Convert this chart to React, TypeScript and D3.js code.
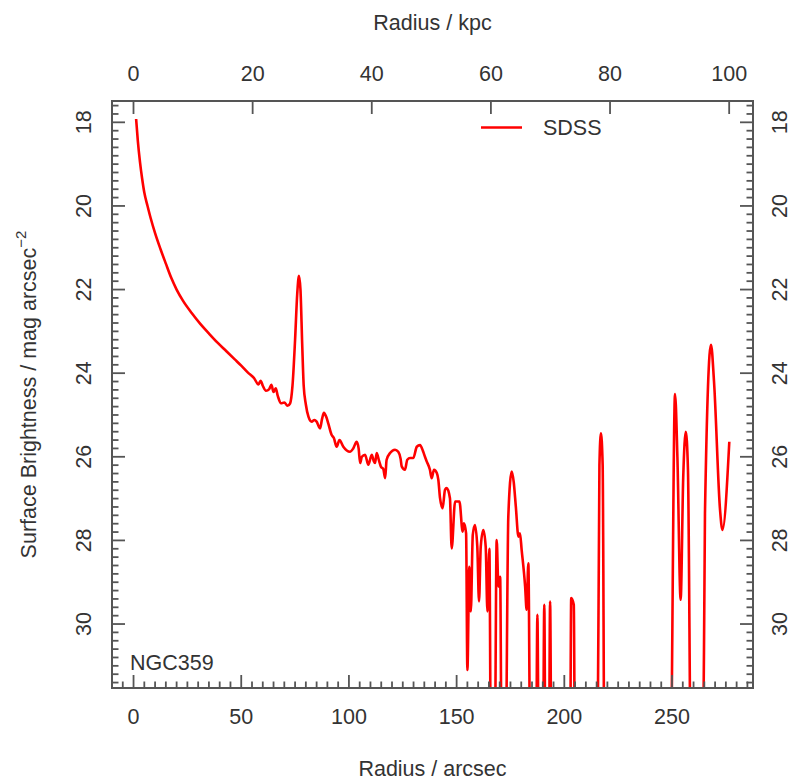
import React from "react";
import * as d3 from "d3";

// Surface brightness profile of NGC359 (SDSS)
const radiusArcsec: number[] = [
  1.2, 2.0, 3.0, 4.0, 5.0, 6.5, 8.0, 10.0, 12.5, 15.0, 17.5, 20.0, 23.0, 27.0, 31.0, 35.0, 39.0, 43.0, 47.0, 50.0,
  53.0, 56.0, 58.0, 59.0, 60.0, 61.5, 63.0, 64.0, 65.0, 66.0, 67.0, 68.5, 70.0, 71.5, 72.7, 73.8, 75.0, 76.0, 76.8, 77.5,
  78.3, 79.0, 80.0, 81.2, 82.7, 84.0, 85.0, 86.6, 87.5, 88.4, 89.5, 90.4, 92.0, 93.0, 94.3, 95.6, 97.4, 99.0, 100.5, 102.0,
  103.6, 104.5, 105.2, 106.0, 107.5, 109.0, 110.6, 111.5, 112.1, 112.9, 114.0, 114.8, 116.0, 116.8, 117.5, 119.1, 121.4, 122.9, 124.0, 124.5,
  126.0, 127.1, 128.4, 129.9, 131.5, 133.0, 134.5, 135.3, 136.1, 137.6, 138.4, 139.5, 140.8, 141.5, 142.3, 143.5, 144.6, 145.4, 146.9, 147.7,
  149.3, 151.3, 152.8, 153.4, 154.4, 155.0, 155.9, 156.6, 157.5, 158.5, 159.6, 160.4, 161.2, 162.4, 163.5, 164.3, 165.2, 166.0, 167.6, 168.6,
  169.4, 170.2, 171.0, 172.6, 174.0, 175.6, 176.5, 177.5, 178.7, 179.4, 180.2, 181.8, 182.5, 183.3, 184.3, 186.8, 187.5, 188.2, 190.0, 190.7,
  191.3, 192.8, 193.4, 194.1, 202.6, 203.2, 204.4, 205.0, 215.3, 216.3, 217.0, 217.8, 218.7, 249.2, 251.4, 252.5, 254.0, 255.2, 256.4, 257.4,
  258.9, 264.3, 265.3, 268.1, 269.5, 272.3, 273.4, 276.6,
];
const sdssMag: number[] = [
  17.92, 18.45, 18.95, 19.35, 19.68, 20.0, 20.3, 20.65, 21.03, 21.38, 21.72, 22.0, 22.27, 22.56, 22.82, 23.05, 23.27, 23.47, 23.67, 23.82,
  23.98, 24.12, 24.27, 24.18, 24.3, 24.42, 24.38, 24.28, 24.45, 24.36, 24.55, 24.72, 24.7, 24.78, 24.72, 24.3, 23.2, 22.1, 21.67, 22.0,
  23.3, 24.3, 24.75, 25.04, 25.16, 25.12, 25.16, 25.32, 25.1, 24.95, 25.05, 25.2, 25.48, 25.55, 25.76, 25.6, 25.76, 25.85, 25.88, 25.8,
  25.64, 25.8, 26.15, 26.0, 25.95, 26.19, 25.95, 26.1, 26.15, 25.91, 26.1, 26.23, 26.3, 26.51, 26.07, 25.91, 25.83, 25.88, 26.05, 26.23,
  26.31, 26.07, 26.03, 26.03, 25.76, 25.72, 25.88, 26.0, 26.11, 26.31, 26.51, 26.31, 26.39, 26.55, 26.99, 27.23, 26.79, 26.75, 26.99, 28.19,
  27.07, 27.07, 27.79, 27.59, 27.83, 31.1, 28.63, 29.7, 27.87, 27.63, 28.15, 29.46, 28.15, 27.75, 28.15, 29.7, 28.2, 34, 34, 27.99,
  29.1, 28.87, 34, 34, 27.43, 26.35, 26.6, 27.2, 27.91, 27.83, 28.23, 29.1, 29.66, 28.55, 34, 34, 29.78, 34, 34, 29.54,
  34, 34, 29.46, 34, 34, 29.38, 29.54, 34, 34, 26.2, 25.44, 26.2, 34, 34, 24.5, 26.0, 29.42, 26.5, 25.4, 26.3,
  34, 34, 27.35, 23.32, 24.2, 27.27, 27.75, 25.64,
];

const arcsecTicks: number[] = [0, 50, 100, 150, 200, 250];
const kpcTicks: number[] = [0, 20, 40, 60, 80, 100];
const magTicks: number[] = [18, 20, 22, 24, 26, 28, 30];

const seriesName = "SDSS";
const galaxyName = "NGC359";
const xTitle = "Radius / arcsec";
const topTitle = "Radius / kpc";
const yTitle = "Surface Brightness / mag arcsec";

const W = 792;
const H = 781;
const L = 112, R = 753, T = 101, B = 688;
const FONT = "'Liberation Sans', Arial, Helvetica, sans-serif";
const TXT = "#333";
const AX = "#555";
const FS = 21.5;

export default function App() {
  const x = d3.scaleLinear().domain([-10, 287.6]).range([L, R]);
  const xk = d3.scaleLinear().domain([-3.61, 104.0]).range([L, R]);
  const y = d3.scaleLinear().domain([17.49, 31.53]).range([T, B]);

  const pts: [number, number][] = radiusArcsec.map((r, i) => [r, sdssMag[i]]);
  const line = d3
    .line<[number, number]>()
    .x((d) => x(d[0]))
    .y((d) => y(d[1]))
    .curve(d3.curveMonotoneX);

  const minorX = d3.range(-10, 288, 5).filter((v) => v % 50 !== 0);
  const minorY = d3.range(17.6, 31.5, 0.2).map((v) => Math.round(v * 10) / 10).filter((v) => Math.abs(v / 2 - Math.round(v / 2)) > 1e-6);

  const majLen = 13;
  const minLen = 6.5;

  return (
    <svg width={W} height={H} style={{ display: "block", position: "absolute", left: 0, top: 0 }} fontFamily={FONT}>
      <rect x={0} y={0} width={W} height={H} fill="#fff" />
      <defs>
        <clipPath id="plotclip">
          <rect x={L} y={T} width={R - L} height={B - T} />
        </clipPath>
      </defs>

      {/* data line */}
      <path
        d={line(pts) || ""}
        fill="none"
        stroke="#ff0000"
        strokeWidth={2.6}
        strokeLinejoin="round"
        clipPath="url(#plotclip)"
      />

      {/* ticks */}
      <g stroke={AX} strokeWidth={1.8}>
        {arcsecTicks.map((v) => (
          <line key={"bx" + v} x1={x(v)} x2={x(v)} y1={B} y2={B - majLen} />
        ))}
        {minorX.map((v) => (
          <line key={"bmx" + v} x1={x(v)} x2={x(v)} y1={B} y2={B - minLen} />
        ))}
        {kpcTicks.map((v) => (
          <line key={"tx" + v} x1={xk(v)} x2={xk(v)} y1={T} y2={T + majLen} />
        ))}
        {magTicks.map((v) => (
          <g key={"y" + v}>
            <line x1={L} x2={L + majLen} y1={y(v)} y2={y(v)} />
            <line x1={R} x2={R - majLen} y1={y(v)} y2={y(v)} />
          </g>
        ))}
        {minorY.map((v) => (
          <g key={"my" + v}>
            <line x1={L} x2={L + minLen} y1={y(v)} y2={y(v)} />
            <line x1={R} x2={R - minLen} y1={y(v)} y2={y(v)} />
          </g>
        ))}
      </g>

      {/* frame */}
      <rect x={L} y={T} width={R - L} height={B - T} fill="none" stroke={AX} strokeWidth={2} />

      {/* tick labels */}
      <g fill={TXT} fontSize={FS} textAnchor="middle">
        {arcsecTicks.map((v) => (
          <text key={"bl" + v} x={x(v)} y={724}>
            {v}
          </text>
        ))}
        {kpcTicks.map((v) => (
          <text key={"tl" + v} x={xk(v)} y={81}>
            {v}
          </text>
        ))}
        {magTicks.map((v) => (
          <g key={"yl" + v}>
            <text transform={`translate(${L - 28},${y(v)}) rotate(-90)`} dominantBaseline="central">
              {v}
            </text>
            <text transform={`translate(${R + 27},${y(v)}) rotate(-90)`} dominantBaseline="central">
              {v}
            </text>
          </g>
        ))}
      </g>

      {/* axis titles */}
      <text x={(L + R) / 2} y={776} fill={TXT} fontSize={FS} textAnchor="middle">
        {xTitle}
      </text>
      <text x={(L + R) / 2} y={30} fill={TXT} fontSize={FS} textAnchor="middle">
        {topTitle}
      </text>
      <text
        transform={`translate(29,${(T + B) / 2}) rotate(-90)`}
        fill={TXT}
        fontSize={FS}
        textAnchor="middle"
        dominantBaseline="central"
      >
        {yTitle}
        <tspan fontSize={15} dy={-9}>
          {"\u22122"}
        </tspan>
      </text>

      {/* legend */}
      <line x1={481} x2={522} y1={127.5} y2={127.5} stroke="#ff0000" strokeWidth={2.6} />
      <text x={543} y={127.5} fill={TXT} fontSize={FS} dominantBaseline="central">
        {seriesName}
      </text>

      {/* galaxy label */}
      <text x={130} y={670} fill={TXT} fontSize={FS}>
        {galaxyName}
      </text>
    </svg>
  );
}
